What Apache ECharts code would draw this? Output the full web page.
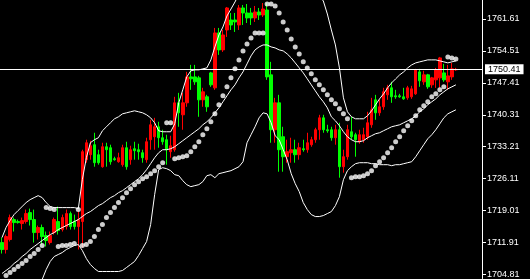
<!DOCTYPE html>
<html><head><meta charset="utf-8">
<script src="https://cdn.jsdelivr.net/npm/echarts@6/dist/echarts.min.js"></script>
<style>html,body{margin:0;padding:0;background:#000}#c{width:530px;height:279px}</style>
</head><body><div id="c"></div>
<script>
const opens = [1711.91,1710.36,1712.58,1717.02,1716.58,1716.13,1716.58,1718.57,1717.02,1714.13,
1715.25,1713.47,1711.91,1714.13,1716.58,1714.80,1715.47,1718.35,1716.58,1715.47,
1716.58,1730.33,1731.44,1733.66,1731.44,1728.77,1733.21,1732.99,1730.55,1729.88,
1729.22,1732.99,1730.33,1732.77,1732.55,1731.88,1730.33,1734.77,1735.43,1737.65,
1735.21,1734.77,1732.11,1732.55,1742.97,1740.31,1742.97,1748.74,1748.74,1748.52,
1743.64,1744.31,1749.63,1746.30,1758.51,1754.74,1759.17,1761.39,1761.39,1760.28,
1764.06,1762.95,1762.95,1761.84,1763.17,1762.50,1763.61,1749.19,1736.99,1742.97,
1735.43,1730.99,1731.88,1732.55,1731.44,1732.77,1732.55,1733.66,1734.77,1736.99,
1739.64,1736.99,1736.99,1735.21,1736.99,1728.77,1730.99,1736.54,1735.88,1734.32,
1734.77,1735.43,1738.09,1743.64,1740.75,1742.09,1744.75,1746.31,1744.53,1744.53,
1744.31,1744.08,1744.31,1744.97,1749.85,1747.64,1749.19,1746.97,1748.08,1748.52,
1749.63,1747.64,1748.74,1750.30];
const closes = [1710.36,1713.25,1717.46,1716.35,1716.35,1716.80,1718.35,1717.02,1714.13,1715.25,
1713.25,1712.36,1713.47,1717.02,1714.58,1717.46,1718.35,1715.47,1715.47,1717.02,
1732.11,1734.10,1733.43,1729.66,1729.66,1733.21,1732.55,1729.88,1730.33,1730.77,
1732.99,1728.77,1732.55,1732.33,1732.11,1730.77,1734.32,1738.09,1737.65,1735.21,
1734.32,1732.55,1733.43,1742.97,1740.75,1742.97,1748.74,1748.30,1747.64,1743.64,
1745.42,1742.09,1746.97,1758.51,1754.74,1758.06,1764.06,1760.28,1760.95,1764.06,
1762.95,1761.84,1761.84,1763.17,1762.50,1763.83,1748.74,1736.99,1742.97,1732.55,
1730.99,1732.11,1732.55,1731.44,1732.99,1732.55,1734.10,1734.77,1736.99,1739.64,
1736.99,1736.76,1735.21,1736.99,1728.77,1730.99,1736.99,1735.43,1734.77,1735.88,
1735.88,1738.54,1741.42,1740.75,1742.09,1745.42,1746.31,1744.31,1744.31,1744.31,
1743.86,1746.31,1746.08,1750.30,1747.86,1749.19,1746.53,1748.52,1750.30,1752.96,
1748.08,1748.96,1750.52,1750.41];
const lows = [1709.47,1709.47,1712.14,1714.36,1716.13,1714.80,1716.13,1715.69,1711.91,1712.58,
1711.47,1711.03,1711.47,1713.69,1713.69,1714.36,1714.80,1714.80,1714.80,1710.36,
1710.81,1729.66,1730.33,1728.77,1729.22,1728.55,1728.77,1729.22,1730.11,1729.66,
1728.77,1728.11,1729.22,1730.33,1730.33,1729.66,1729.66,1732.55,1732.55,1732.99,
1733.66,1729.22,1730.77,1732.11,1737.65,1736.99,1742.09,1745.86,1746.97,1739.87,
1742.09,1740.98,1746.53,1745.86,1753.63,1754.29,1757.62,1759.17,1758.73,1759.17,
1760.28,1760.72,1760.28,1760.95,1761.39,1762.06,1748.08,1734.10,1734.10,1727.66,
1727.66,1729.66,1729.66,1729.66,1730.33,1732.11,1731.88,1733.21,1734.10,1734.77,
1736.32,1736.32,1734.55,1733.66,1726.33,1727.44,1730.33,1734.77,1730.99,1733.88,
1734.10,1734.77,1737.43,1739.20,1740.09,1741.42,1743.64,1742.97,1743.86,1744.09,
1743.64,1743.64,1743.86,1744.75,1746.53,1746.97,1746.08,1746.30,1746.30,1746.30,
1747.64,1745.86,1748.08,1750.08];
const highs = [1713.02,1713.69,1718.13,1717.46,1717.02,1717.46,1719.24,1719.46,1719.24,1715.69,
1715.91,1714.36,1714.36,1717.46,1719.91,1718.13,1719.24,1718.80,1718.13,1718.80,
1732.55,1734.77,1734.55,1736.32,1732.55,1734.10,1734.10,1733.66,1730.99,1731.88,
1733.66,1734.32,1733.43,1734.32,1733.88,1732.55,1735.21,1739.20,1739.64,1738.76,
1736.99,1735.88,1735.66,1744.31,1745.19,1745.19,1749.86,1751.41,1751.41,1748.96,
1746.31,1744.75,1749.85,1759.62,1759.62,1759.17,1764.28,1762.95,1762.95,1764.72,
1764.72,1764.94,1764.06,1764.50,1764.06,1765.16,1765.16,1752.08,1744.08,1744.75,
1737.65,1734.77,1735.21,1734.77,1734.10,1734.77,1736.32,1735.43,1737.43,1740.31,
1740.31,1738.09,1737.65,1738.09,1738.54,1732.55,1738.09,1739.87,1736.32,1736.99,
1737.43,1740.98,1744.08,1744.75,1743.64,1746.31,1746.97,1747.64,1745.86,1744.97,
1746.31,1746.75,1746.75,1750.52,1750.52,1750.08,1749.41,1748.74,1750.74,1753.18,
1751.63,1751.41,1751.85,1750.74];
const bbUpper = [1713.02,1715.25,1716.80,1718.13,1719.02,1719.91,1720.79,1721.45,1721.90,1722.34,
1721.90,1720.79,1719.91,1719.68,1719.68,1719.68,1719.68,1719.68,1719.68,1719.46,
1725.89,1730.77,1734.10,1734.77,1735.21,1736.76,1737.65,1738.54,1739.42,1739.87,
1740.53,1740.75,1740.98,1741.20,1740.98,1740.75,1740.31,1739.64,1738.54,1736.76,
1736.54,1736.54,1736.54,1738.31,1742.97,1745.86,1748.74,1750.08,1750.30,1750.30,
1750.52,1750.74,1752.52,1755.40,1758.06,1759.84,1762.28,1763.83,1765.39,1767.16,
1768.71,1770.27,1771.60,1772.49,1773.15,1773.60,1774.04,1774.71,1775.15,1775.15,
1774.93,1774.48,1773.82,1772.93,1772.04,1770.93,1769.82,1768.71,1767.61,1766.72,
1765.61,1762.72,1759.17,1755.84,1750.74,1744.08,1740.98,1739.87,1739.42,1739.42,
1739.42,1740.09,1741.20,1742.53,1743.86,1744.97,1746.30,1747.41,1748.30,1749.19,
1749.85,1750.74,1751.41,1751.85,1752.08,1752.30,1752.52,1752.52,1752.52,1752.30,
1752.08,1751.85,1752.08,1752.30];
const bbMiddle = [1705.03,1705.70,1706.36,1707.25,1707.92,1708.81,1709.47,1710.36,1711.03,1711.69,
1712.36,1713.02,1713.69,1714.13,1714.80,1715.24,1715.69,1716.13,1716.58,1717.02,
1717.69,1718.35,1718.80,1719.45,1720.12,1720.56,1721.23,1721.89,1722.34,1723.00,
1723.45,1724.11,1724.78,1725.45,1726.11,1727.00,1728.11,1729.44,1730.77,1731.88,
1732.55,1732.55,1732.77,1733.21,1733.88,1734.55,1735.21,1735.88,1736.54,1737.20,
1738.09,1738.76,1739.64,1740.75,1741.86,1743.20,1744.53,1745.86,1746.97,1748.52,
1749.86,1751.63,1753.41,1754.74,1755.40,1755.84,1755.84,1755.40,1755.18,1754.74,
1754.52,1753.85,1752.96,1751.85,1750.74,1749.63,1748.30,1746.97,1745.64,1744.31,
1743.20,1741.86,1739.87,1738.98,1737.87,1736.54,1735.43,1734.77,1734.33,1734.33,
1734.55,1735.21,1735.66,1736.10,1736.32,1736.77,1737.20,1737.65,1737.87,1738.09,
1738.54,1738.98,1739.42,1740.09,1740.98,1741.64,1742.53,1743.20,1743.86,1744.75,
1745.42,1746.08,1746.53,1746.97];
const bbLower = [1697.05,1697.27,1697.49,1697.94,1698.60,1699.27,1700.15,1701.04,1701.92,1702.59,
1703.70,1705.92,1707.70,1708.81,1709.25,1709.69,1710.36,1710.80,1711.25,1711.47,
1710.14,1708.36,1707.03,1706.14,1705.48,1705.48,1705.48,1705.48,1705.48,1705.48,
1705.70,1706.36,1707.03,1707.70,1709.03,1710.58,1712.14,1715.91,1722.56,1728.11,
1728.55,1728.33,1727.89,1727.00,1726.78,1725.67,1724.78,1724.34,1724.56,1724.78,
1725.45,1726.78,1727.00,1726.33,1727.22,1727.44,1727.67,1727.89,1728.33,1728.77,
1729.88,1734.10,1735.88,1737.65,1739.64,1740.75,1740.53,1738.54,1735.66,1734.77,
1732.55,1730.33,1727.22,1725.00,1723.23,1720.79,1719.24,1718.13,1717.69,1717.69,
1717.91,1718.35,1718.80,1720.12,1722.12,1725.89,1727.89,1728.77,1729.44,1729.66,
1729.66,1729.66,1729.44,1729.44,1729.22,1729.22,1729.22,1729.00,1729.22,1729.22,
1729.44,1729.66,1729.88,1730.99,1732.33,1733.66,1734.99,1735.88,1736.99,1738.31,
1739.64,1740.53,1740.98,1741.42];
const sar = [1703.70,1704.59,1705.25,1705.92,1706.59,1707.25,1707.92,1708.81,1709.47,1710.36,
1711.25,1719.68,1719.46,1719.24,1711.03,1711.25,1711.25,1711.47,1711.69,1719.24,
1711.25,1711.47,1712.14,1713.25,1714.80,1715.91,1717.46,1718.57,1719.68,1720.79,
1721.89,1723.00,1723.89,1724.78,1725.45,1726.11,1726.56,1727.22,1727.89,1728.77,
1729.66,1738.54,1738.54,1730.55,1730.77,1730.99,1731.21,1732.11,1733.21,1734.32,
1735.88,1737.20,1738.76,1740.53,1742.53,1744.53,1746.53,1748.52,1750.52,1752.52,
1754.52,1756.06,1757.40,1758.51,1758.51,1758.51,1764.94,1764.94,1764.50,1762.95,
1760.95,1759.17,1757.18,1755.40,1753.85,1752.08,1750.74,1749.41,1748.08,1746.97,
1745.86,1744.75,1743.64,1742.75,1741.64,1740.53,1739.42,1726.33,1726.56,1726.56,
1726.78,1727.22,1727.89,1729.00,1729.88,1730.77,1731.88,1732.99,1734.32,1735.43,
1736.76,1737.87,1738.98,1740.09,1741.42,1742.31,1743.20,1744.31,1744.97,1745.86,
1746.53,1753.18,1752.96,1752.74];
const yTicks = [1761.61,1754.51,1747.41,1740.31,1733.21,1726.11,1719.01,1711.91,1704.81];
const lastPrice = 1750.41;
const yRange = [1703.92, 1765.83];
const barCount = 120;
const categories = Array.from({length: barCount}, (_, i) => String(i + 1));

const chart = echarts.init(document.getElementById('c'));
const candles = opens.map((o, i) => [o, closes[i], lows[i], highs[i]]);
const bandLine = (data) => ({
  type: 'line', data: data, showSymbol: false, symbol: 'none', silent: true,
  lineStyle: {color: '#ffffff', width: 1}, z: 3
});
chart.setOption({
  animation: false,
  backgroundColor: '#000000',
  grid: {left: 0, right: 48, top: 0, bottom: 0},
  xAxis: {type: 'category', data: categories, boundaryGap: true, show: false},
  yAxis: {
    type: 'value', position: 'right', min: yRange[0], max: yRange[1],
    axisLine: {show: true, lineStyle: {color: '#ffffff', width: 1}},
    axisTick: {show: true, length: 4, lineStyle: {color: '#ffffff'}, customValues: yTicks},
    axisLabel: {color: '#ffffff', fontSize: 9, fontFamily: 'Liberation Sans', margin: 5,
      customValues: yTicks, formatter: v => v.toFixed(2)},
    splitLine: {show: false}
  },
  series: [
    {
      type: 'candlestick', data: candles, barWidth: 3, silent: true, z: 2,
      itemStyle: {color: '#ff0000', color0: '#00ff00', borderColor: '#ff0000', borderColor0: '#00ff00', borderWidth: 1},
      markLine: {
        silent: true, symbol: ['none', 'none'], animation: false,
        data: [{yAxis: lastPrice}],
        lineStyle: {color: '#ffffff', type: 'solid', width: 1},
        label: {position: 'end', formatter: lastPrice.toFixed(2), color: '#000000', backgroundColor: '#ffffff',
          fontSize: 9, fontFamily: 'Liberation Sans', padding: [1, 3, 0, 3], distance: 3}
      }
    },
    bandLine(bbUpper),
    bandLine(bbMiddle),
    bandLine(bbLower),
    {type: 'scatter', data: sar, symbolSize: 5, silent: true, z: 4,
      itemStyle: {color: '#ffffff'}}
  ]
});
</script></body></html>
